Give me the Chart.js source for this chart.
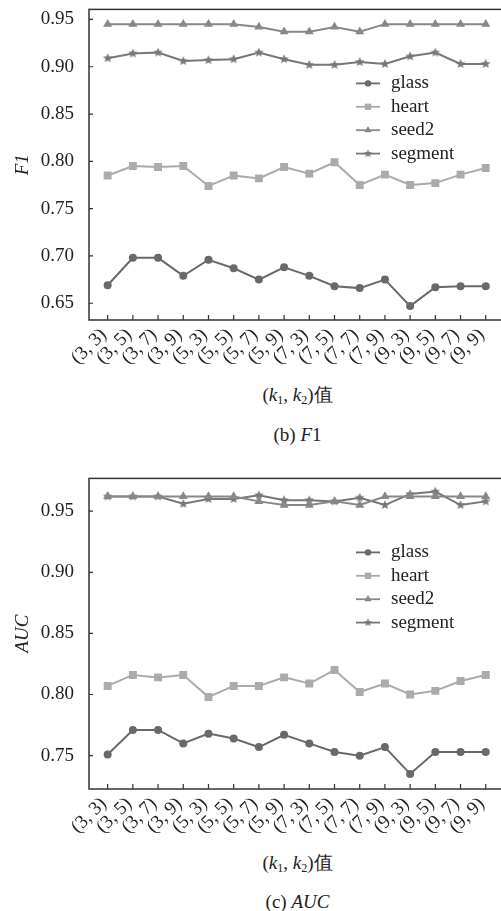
<!DOCTYPE html>
<html>
<head>
<meta charset="utf-8">
<script src="https://cdn.jsdelivr.net/npm/chart.js@4.4.1/dist/chart.umd.min.js"></script>
<style>
  html, body { margin:0; padding:0; background:#fff; overflow:hidden; width:501px; height:911px; }
  .wrap { position:absolute; left:0; }
  .cap { position:absolute; left:0; width:595px; text-align:center; font-family:"Liberation Serif","Times New Roman",serif;
         font-size:19px; line-height:22px; color:#222; }
  .cap sub { font-size:12px; vertical-align:-3px; line-height:0; }
</style>
</head>
<body>
<div class="wrap" style="top:-17px"><canvas id="chartF1" width="510" height="387"></canvas></div>
<div class="cap" style="top:384px">(<i>k</i><sub>1</sub>, <i>k</i><sub>2</sub>)值</div>
<div class="cap" style="top:424px">(b) <i>F</i>1</div>

<div class="wrap" style="top:452px"><canvas id="chartAUC" width="510" height="387"></canvas></div>
<div class="cap" style="top:852px">(<i>k</i><sub>1</sub>, <i>k</i><sub>2</sub>)值</div>
<div class="cap" style="top:891px">(c) <i>AUC</i></div>

<script>
const kLabels = ['(3, 3)','(3, 5)','(3, 7)','(3, 9)','(5, 3)','(5, 5)','(5, 7)','(5, 9)',
                 '(7, 3)','(7, 5)','(7, 7)','(7, 9)','(9, 3)','(9, 5)','(9, 7)','(9, 9)'];

const glassF1   = [0.669, 0.698, 0.698, 0.679, 0.696, 0.687, 0.675, 0.688, 0.679, 0.668, 0.666, 0.675, 0.647, 0.667, 0.668, 0.668];
const heartF1   = [0.785, 0.795, 0.794, 0.795, 0.774, 0.785, 0.782, 0.794, 0.787, 0.799, 0.775, 0.786, 0.775, 0.777, 0.786, 0.793];
const seed2F1   = [0.945, 0.945, 0.945, 0.945, 0.945, 0.945, 0.942, 0.937, 0.937, 0.942, 0.937, 0.945, 0.945, 0.945, 0.945, 0.945];
const segmentF1 = [0.909, 0.914, 0.915, 0.906, 0.907, 0.908, 0.915, 0.908, 0.902, 0.902, 0.905, 0.903, 0.911, 0.915, 0.903, 0.903];

const glassAUC   = [0.751, 0.771, 0.771, 0.760, 0.768, 0.764, 0.757, 0.767, 0.760, 0.753, 0.750, 0.757, 0.735, 0.753, 0.753, 0.753];
const heartAUC   = [0.807, 0.816, 0.814, 0.816, 0.798, 0.807, 0.807, 0.814, 0.809, 0.820, 0.802, 0.809, 0.800, 0.803, 0.811, 0.816];
const seed2AUC   = [0.962, 0.962, 0.962, 0.962, 0.962, 0.962, 0.958, 0.955, 0.955, 0.958, 0.955, 0.962, 0.962, 0.962, 0.962, 0.962];
const segmentAUC = [0.962, 0.962, 0.962, 0.956, 0.960, 0.960, 0.963, 0.959, 0.959, 0.958, 0.961, 0.955, 0.964, 0.966, 0.955, 0.958];

const yTicksF1  = [0.65, 0.70, 0.75, 0.80, 0.85, 0.90, 0.95];
const yTicksAUC = [0.75, 0.80, 0.85, 0.90, 0.95];

const FONT = '"Liberation Serif","Times New Roman",serif';
const INK = '#222';

// small filled 5-point star used as point style for "segment"
function makeStar(color, r){
  const c = document.createElement('canvas');
  const s = Math.ceil(r*2)+2;
  c.width = s; c.height = s;
  const g = c.getContext('2d');
  g.fillStyle = color;
  g.beginPath();
  for (let i=0;i<10;i++){
    const rr = i%2 ? r*0.45 : r;
    const a = -Math.PI/2 + i*Math.PI/5;
    g.lineTo(s/2 + rr*Math.cos(a), s/2 + rr*Math.sin(a));
  }
  g.closePath(); g.fill();
  return c;
}
const starImg = makeStar('#77777a', 5);
const starLegend = makeStar('#77777a', 4.2);

const seriesStyle = [
  { label:'glass',   color:'#69696c', pointStyle:'circle',   radius:4 },
  { label:'heart',   color:'#ababab', pointStyle:'rect',     radius:5.6 },
  { label:'seed2',   color:'#88888b', pointStyle:'triangle', radius:5.2 },
  { label:'segment', color:'#77777a', pointStyle:starImg,    radius:5 }
];

// inward ticks + full frame
const framePlugin = {
  id:'frame',
  afterDraw(chart){
    const {ctx, chartArea:a, scales} = chart;
    ctx.save();
    ctx.strokeStyle = '#333';
    ctx.lineWidth = 1.5;
    ctx.strokeRect(a.left, a.top, a.right-a.left, a.bottom-a.top);
    ctx.lineWidth = 1.2;
    ctx.beginPath();
    scales.y.ticks.forEach(t => {
      const y = scales.y.getPixelForValue(t.value);
      ctx.moveTo(a.left, y); ctx.lineTo(a.left+4, y);
    });
    scales.x.ticks.forEach(t => {
      const x = scales.x.getPixelForValue(t.value);
      ctx.moveTo(x, a.bottom); ctx.lineTo(x, a.bottom-5);
    });
    ctx.stroke();
    ctx.restore();
  }
};

// legend inside the plot: line + marker + name
const legendPlugin = {
  id:'inlegend',
  afterDatasetsDraw(chart){
    const {ctx, chartArea:a} = chart;
    ctx.save();
    chart.data.datasets.forEach((ds, i) => {
      const y = a.top + 74 + i*23.4;
      const x0 = a.left + 267, x1 = a.left + 291;
      ctx.strokeStyle = ds.borderColor;
      ctx.lineWidth = 1.8;
      ctx.beginPath(); ctx.moveTo(x0, y); ctx.lineTo(x1, y); ctx.stroke();
      ctx.fillStyle = ds.backgroundColor;
      const ps = ds.pointStyle === starImg ? starLegend : ds.pointStyle;
      Chart.helpers.drawPoint(ctx, { pointStyle: ps, radius: ds.pointRadius*0.8, rotation:0, borderWidth:0 }, (x0+x1)/2, y);
      ctx.fillStyle = INK;
      ctx.font = '19px ' + FONT;
      ctx.textBaseline = 'middle';
      ctx.textAlign = 'left';
      ctx.fillText(ds.label, a.left + 302, y);
    });
    ctx.restore();
  }
};

function makeChart(id, series, yMin, yMax, yTicks, yTitle){
  const datasets = series.map((vals, i) => {
    const st = seriesStyle[i];
    return {
      label: st.label,
      data: vals.map((v, j) => ({ x: j+1, y: v })),
      borderColor: st.color,
      backgroundColor: st.color,
      borderWidth: 2,
      pointStyle: st.pointStyle,
      pointRadius: st.radius,
      pointBorderWidth: 0,
      pointBackgroundColor: st.color,
      tension: 0
    };
  });
  return new Chart(document.getElementById(id), {
    type:'line',
    data:{ datasets },
    plugins:[framePlugin, legendPlugin],
    options:{
      responsive:false,
      animation:false,
      layout:{ padding:{ top:10, right:4, left:0, bottom:0 } },
      plugins:{ legend:{ display:false }, tooltip:{ enabled:false } },
      scales:{
        x:{
          type:'linear',
          min:0.26, max:16.74,
          afterBuildTicks: s => { s.ticks = kLabels.map((_, j) => ({ value: j+1 })); },
          afterFit: s => { s.height = 50; },
          border:{ display:false },
          grid:{ display:false, drawTicks:false },
          ticks:{
            autoSkip:false, minRotation:45, maxRotation:45, padding:4, labelOffset:-4,
            color:INK, font:{ family:FONT, size:19 },
            callback: v => kLabels[v-1]
          }
        },
        y:{
          min:yMin, max:yMax,
          afterBuildTicks: s => { s.ticks = yTicks.map(v => ({ value:v })); },
          afterFit: s => { s.width = 89; },
          border:{ display:false },
          grid:{ display:false, drawTicks:false },
          ticks:{ padding:15, color:INK, font:{ family:FONT, size:19 }, callback: v => v.toFixed(2) },
          title:{ display:true, text:yTitle, color:INK, padding:{ top:12, bottom:0 },
                  font:{ family:FONT, size:19, style:'italic' } }
        }
      }
    }
  });
}

function drawAll(){
  makeChart('chartF1',  [glassF1, heartF1, seed2F1, segmentF1],     0.6323, 0.9606, yTicksF1,  'F1');
  makeChart('chartAUC', [glassAUC, heartAUC, seed2AUC, segmentAUC], 0.7227, 0.9768, yTicksAUC, 'AUC');
}

Promise.all([
  document.fonts.load('19px "Liberation Serif"'),
  document.fonts.load('italic 19px "Liberation Serif"')
]).then(drawAll, drawAll);
</script>
</body>
</html>
